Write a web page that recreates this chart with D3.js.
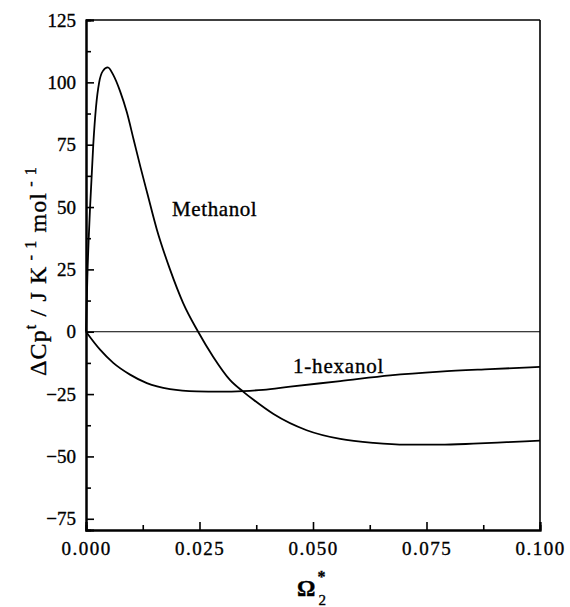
<!DOCTYPE html>
<html>
<head>
<meta charset="utf-8">
<script src="https://cdn.jsdelivr.net/npm/d3@7"></script>
<style>
  html, body { margin: 0; padding: 0; background: #fff; }
  svg { display: block; }
  svg text { font-family: 'Liberation Serif', 'Times New Roman', Times, serif !important; fill: #000; stroke: #000; stroke-width: 0.35px; }
</style>
</head>
<body>
<svg id="chart" width="570" height="607"></svg>
<script>
// ---- data ----
const methanolX = [0, 0.0003, 0.0009, 0.0016, 0.0022, 0.0029, 0.0037, 0.0048, 0.006, 0.0075, 0.009, 0.0105, 0.012, 0.0135, 0.0156, 0.0185, 0.0214, 0.0247, 0.028, 0.0317, 0.0346, 0.0369, 0.0413, 0.0486, 0.056, 0.0633, 0.0706, 0.078, 0.0853, 0.0927, 0.1];
const methanolY = [0, 22, 50, 75, 90, 100, 104.5, 106, 103, 96.5, 88, 77, 66, 55.5, 41, 25, 11.5, 0, -10, -19.3, -24, -27.3, -33, -39.5, -43, -44.6, -45.3, -45.3, -44.9, -44.3, -43.7];
const hexanolX = [0, 0.0031, 0.006, 0.0097, 0.0134, 0.0185, 0.0244, 0.0295, 0.0346, 0.039, 0.045, 0.056, 0.067, 0.078, 0.089, 0.1];
const hexanolY = [0, -7.2, -12.5, -17.2, -20.6, -23, -23.9, -24, -23.8, -23.3, -22, -19.8, -17.5, -16, -15, -14.1];
const xTicks = [0, 0.025, 0.05, 0.075, 0.1];
const xMinorTicks = [0.0125, 0.0375, 0.0625, 0.0875];
const yTicks = [-75, -50, -25, 0, 25, 50, 75, 100, 125];
const yMinorTicks = [-62.5, -37.5, -12.5, 12.5, 37.5, 62.5, 87.5, 112.5];
const seriesLabels = ["Methanol", "1-hexanol"];

// ---- layout ----
const svg = d3.select("#chart");
const L = 86, R = 540, T = 20, B = 530;
const x = d3.scaleLinear().domain([0, 0.1]).range([L, R]);
const y = d3.scaleLinear().domain([-79.5, 125]).range([B, T]);

// frame (top/right)
svg.append("line").attr("x1", L).attr("x2", R).attr("y1", T).attr("y2", T).attr("stroke", "#000").attr("stroke-width", 1.6);
svg.append("line").attr("x1", R).attr("x2", R).attr("y1", T).attr("y2", B).attr("stroke", "#000").attr("stroke-width", 1.6);

// zero line
svg.append("line").attr("x1", x(0)).attr("x2", x(0.1)).attr("y1", y(0)).attr("y2", y(0))
  .attr("stroke", "#000").attr("stroke-width", 1);

// axes
const fmtX = d3.format(".3f");
const gx = svg.append("g").attr("transform", `translate(0,${B})`)
  .call(d3.axisBottom(x).tickValues(xTicks).tickFormat(fmtX).tickSize(-8).tickPadding(11.5));
const gxm = svg.append("g").attr("transform", `translate(0,${B})`)
  .call(d3.axisBottom(x).tickValues(xMinorTicks).tickFormat("").tickSize(-5));
const gy = svg.append("g").attr("transform", `translate(${L},0)`)
  .call(d3.axisLeft(y).tickValues(yTicks).tickFormat(d3.format("d")).tickSize(-8).tickPadding(10));
const gym = svg.append("g").attr("transform", `translate(${L},0)`)
  .call(d3.axisLeft(y).tickValues(yMinorTicks).tickFormat("").tickSize(-5));

[gx, gxm, gy, gym].forEach(g => {
  g.attr("font-family", null);
  g.selectAll(".domain").attr("stroke", "#000").attr("stroke-width", 2);
  g.selectAll(".tick line").attr("stroke", "#000").attr("stroke-width", 1.6);
  g.selectAll("text").attr("font-size", 19).attr("fill", "#000");
});
gx.selectAll("text").style("letter-spacing", "1.5px");

// curves
const line = d3.line().x(d => x(d[0])).y(d => y(d[1])).curve(d3.curveMonotoneX);
const methanol = methanolX.map((v, i) => [v, methanolY[i]]);
const hexanol = hexanolX.map((v, i) => [v, hexanolY[i]]);
svg.append("path").datum(methanol).attr("d", line).attr("fill", "none").attr("stroke", "#000").attr("stroke-width", 1.8);
svg.append("path").datum(hexanol).attr("d", line).attr("fill", "none").attr("stroke", "#000").attr("stroke-width", 1.8);

// series labels
svg.append("text").attr("x", 172).attr("y", 216).attr("font-size", 21).style("letter-spacing", "0.6px").text(seriesLabels[0]);
svg.append("text").attr("x", 293).attr("y", 373).attr("font-size", 21).style("letter-spacing", "0.8px").text(seriesLabels[1]);

// y axis title
const yt = svg.append("text").attr("transform", "translate(46,271) rotate(-90)")
  .attr("text-anchor", "middle").attr("font-size", 24);
yt.append("tspan").text("ΔCp");
yt.append("tspan").attr("font-size", 16).attr("dy", -10).text("t");
yt.append("tspan").attr("dy", 10).text(" / J K");
yt.append("tspan").attr("font-size", 16).attr("dy", -10).text(" - 1");
yt.append("tspan").attr("dy", 10).text(" mol");
yt.append("tspan").attr("font-size", 16).attr("dy", -10).text(" - 1");
const natural = yt.node().getComputedTextLength();
const nChars = yt.text().length;
const target = 210;
if (natural < target) yt.style("letter-spacing", ((target - natural) / nChars) + "px");

// x axis title
const xt = svg.append("text").attr("x", 297).attr("y", 596).attr("font-size", 23).attr("font-weight", "bold");
xt.append("tspan").text("Ω");
xt.append("tspan").attr("font-size", 16).attr("dy", -14).attr("dx", 2).text("*");
xt.append("tspan").attr("font-size", 15).attr("dy", 23).attr("dx", -7).attr("font-weight", "normal").text("2");
</script>
</body>
</html>
